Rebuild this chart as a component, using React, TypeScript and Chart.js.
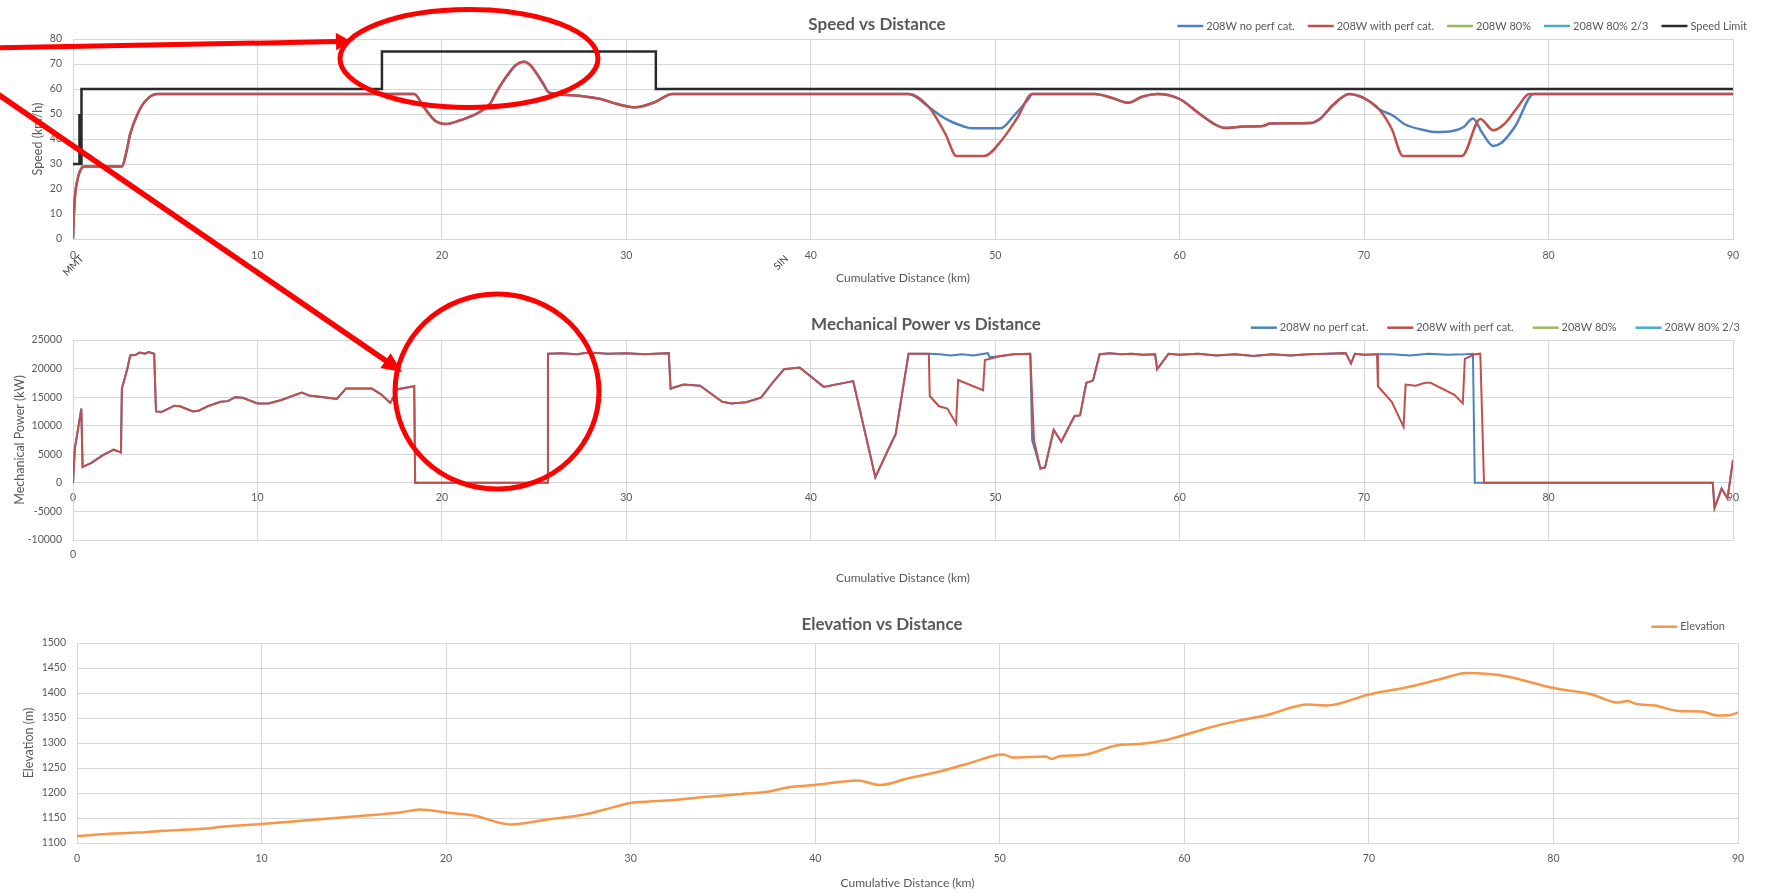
import React, { useEffect, useRef } from 'react';
import { Chart, registerables } from 'chart.js';

Chart.register(...registerables);

type Pt = [number, number];

// ---------------- labels ----------------
const chartTitles = ['Speed vs Distance', 'Mechanical Power vs Distance', 'Elevation vs Distance'];
const seriesNames = ['208W no perf cat.', '208W with perf cat.', '208W 80%', '208W 80% 2/3', 'Speed Limit'];
const seriesColors = ['#4F81BD', '#C0504D', '#9BBB59', '#4BACC6', '#2a2a2a'];
const elevationName = 'Elevation';
const elevationColor = '#F79646';
const stationNames = ['MMT', 'SIN'];
const stationKm = [0, 38.2];
const xAxisTitle = 'Cumulative Distance (km)';
const yAxisTitles = ['Speed (km/h)', 'Mechanical Power (kW)', 'Elevation (m)'];

// ---------------- speed (km, km/h) ----------------
const speedLimit: Pt[] = [
  [0, 30], [0.33, 30], [0.33, 50], [0.36, 50], [0.36, 30], [0.46, 30], [0.46, 60],
  [16.75, 60], [16.75, 75], [31.6, 75], [31.6, 60], [90, 60],
];
const speedShared1: Pt[] = [
  [0, 0], [0.05, 10], [0.12, 18], [0.25, 24], [0.4, 27.5], [0.6, 29], [2.65, 29], [2.9, 35],
  [3.1, 42], [3.5, 50], [3.9, 55], [4.55, 58], [18.5, 58], [19.0, 53], [19.6, 47.5], [20.2, 46],
  [21.0, 47.5], [22.0, 50.6], [22.6, 54], [23.0, 59.3], [23.5, 65], [24.0, 69.5], [24.45, 70.9],
  [24.8, 69.5], [25.1, 66.6], [25.5, 62], [25.8, 58.6], [27, 57.5], [28.6, 56], [29.5, 54],
  [30.5, 52.7], [31.5, 54.6], [32.5, 58], [45.3, 58], [46.4, 52.8],
];
const speedRedDip1: Pt[] = [[47.3, 42], [47.9, 33.2], [49.4, 33.2], [50.4, 40], [51.2, 48.5], [52.0, 58]];
const speedBlueDip1: Pt[] = [[47.0, 49.5], [47.6, 47], [48.3, 45], [48.7, 44.3], [50.3, 44.3], [51.0, 49.2], [51.8, 56], [52.0, 58]];
const speedShared2: Pt[] = [
  [55.4, 58], [56.3, 56.5], [57.2, 54.5], [58.0, 57], [58.8, 58], [60, 56], [61, 50.5], [62, 45.5],
  [62.5, 44.4], [63.5, 45], [64.5, 45.2], [64.9, 46.2], [67.1, 46.4], [67.6, 48], [68.3, 53.5],
  [69.2, 58], [69.8, 57], [70.3, 55], [70.8, 52],
];
const speedRedDip2: Pt[] = [[71.5, 44], [72.1, 33.2], [75.3, 33.2], [76.3, 48], [77.0, 43.5], [77.6, 46], [78.3, 52.5], [78.95, 58]];
const speedBlueDip2: Pt[] = [
  [71.6, 49.2], [72.2, 45.9], [73.3, 43.5], [73.9, 42.8], [74.8, 43.2], [75.4, 44.8], [75.9, 48.2],
  [76.4, 42.5], [77.0, 37.2], [77.45, 38.5], [78.2, 45.2], [79.2, 58],
];
const speedShared3: Pt[] = [[90, 58]];

// ---------------- mechanical power (km, kW) ----------------
const powerShared1: Pt[] = [
  [0, 0], [0.1, 6000], [0.45, 13000], [0.52, 2800], [1.0, 3500], [1.6, 4800], [2.2, 5800], [2.45, 5500],
  [2.6, 5300], [2.65, 16500], [2.95, 20000], [3.1, 22300], [3.4, 22400], [3.6, 22800], [3.9, 22600],
  [4.1, 22900], [4.4, 22600], [4.5, 12500], [4.8, 12400], [5.5, 13500], [5.8, 13400], [6.5, 12500],
  [6.8, 12600], [7.3, 13400], [8.0, 14200], [8.4, 14300], [8.8, 15000], [9.2, 14900], [10.0, 13900],
  [10.6, 13900], [11.3, 14500], [12.4, 15800], [12.8, 15300], [14.3, 14700], [14.8, 16500], [16.2, 16500],
  [16.7, 15500], [17.2, 14000], [17.6, 16400], [18.5, 16900], [18.55, 0], [25.7, 0], [25.75, 22600],
  [26.5, 22700], [27.3, 22500], [28.0, 22800], [29.0, 22600], [30.0, 22700], [31.0, 22500], [32.3, 22700],
  [32.4, 16500], [33.1, 17200], [34.0, 17000], [35.2, 14200], [35.7, 13900], [36.5, 14100], [37.3, 14900],
  [37.9, 17400], [38.55, 19900], [39.4, 20200], [40.7, 16800], [42.3, 17800], [43.5, 1000], [44.4, 7200],
  [44.6, 8500], [45.3, 22600], [46.4, 22600],
];
const powerRedA: Pt[] = [[46.45, 15200], [46.95, 13400], [47.4, 13000], [47.88, 10400], [47.99, 18000], [49.34, 16200], [49.44, 21500]];
const powerBlueA: Pt[] = [[47.0, 22500], [47.6, 22300], [48.2, 22500], [48.8, 22300], [49.6, 22700], [49.7, 22000]];
const powerShared2: Pt[] = [[50.3, 22200], [51.0, 22500], [51.9, 22600]];
const powerRedB: Pt[] = [[52.1, 7500]];
const powerBlueB: Pt[] = [[52.0, 7500]];
const powerShared3: Pt[] = [
  [52.45, 2500], [52.7, 2700], [53.17, 9300], [53.58, 7200], [54.3, 11700], [54.6, 11800], [54.94, 17500],
  [55.3, 17900], [55.66, 22500], [56.2, 22700], [56.8, 22500], [57.4, 22600], [58.0, 22400], [58.67, 22500],
  [58.78, 19900], [59.4, 22600], [60.0, 22400], [61.0, 22600], [62.0, 22300], [63.0, 22500], [64.0, 22200],
  [65.0, 22500], [66.0, 22300], [67.0, 22500], [68.0, 22600], [69.0, 22700], [69.29, 20900], [69.5, 22600],
  [70.0, 22400], [70.7, 22500],
];
const powerRedC: Pt[] = [
  [70.75, 16900], [71.5, 14200], [72.14, 9800], [72.25, 17200], [72.8, 17000], [73.3, 17500], [73.6, 17500],
  [74.9, 15400], [75.35, 13900], [75.46, 21700], [76.0, 22500], [76.3, 22600], [76.5, 0],
];
const powerBlueC: Pt[] = [[71.5, 22500], [72.5, 22300], [73.5, 22600], [74.5, 22400], [75.5, 22500], [75.9, 22600], [76.0, 0]];
const powerShared4: Pt[] = [[88.9, 0], [89.0, -4400], [89.38, -1000], [89.7, -2700], [90.0, 4000]];

// ---------------- elevation (km, m) ----------------
const elevation: Pt[] = [
  [0, 1114], [2, 1119], [3.3, 1121], [5, 1125], [7, 1129], [8, 1133], [10, 1138], [12, 1144], [14, 1150],
  [16, 1156], [17.5, 1161], [18.6, 1167], [20, 1161], [21.5, 1155], [23.5, 1137], [25.5, 1147], [27.5, 1157],
  [28.6, 1167], [30, 1180], [31, 1183], [32, 1185], [34, 1192], [36, 1198], [37.5, 1203], [38.5, 1211],
  [40, 1216], [42.3, 1225], [43.5, 1216], [45, 1229], [46.5, 1241], [48.3, 1259], [50.2, 1277], [50.7, 1271],
  [52.5, 1273], [52.8, 1268], [53.3, 1274], [54.5, 1276], [56.3, 1295], [57.8, 1299], [59, 1306],
  [60, 1316], [61, 1327], [62, 1337], [63, 1345], [64.5, 1356], [66.7, 1377], [67.7, 1375], [70, 1397], [72, 1411],
  [74, 1429], [75.3, 1440], [76.5, 1438], [77.5, 1433], [80, 1410], [82, 1398], [83.5, 1381], [84, 1384],
  [84.5, 1378], [85.5, 1375], [86.8, 1364], [88, 1363], [88.9, 1355], [89.6, 1356], [90, 1361],
];

// ---------------- styling ----------------
const FONT = 'Lato, "Open Sans", "Liberation Sans", sans-serif';
const TEXT = '#595959';
const GRID = '#d6d6d6';
const W = 1767;

const toXY = (pts: Pt[]) => pts.map(([x, y]) => ({ x, y }));

function lineDs(label: string, color: string, pts: Pt[], width: number, order: number, smooth: boolean) {
  return {
    label,
    data: toXY(pts),
    borderColor: color,
    backgroundColor: color,
    borderWidth: width,
    pointRadius: 0,
    pointHoverRadius: 0,
    fill: false,
    order,
    tension: 0,
    cubicInterpolationMode: smooth ? 'monotone' : 'default',
  };
}

type HeaderCfg = {
  title: string; titleX: number; titleY: number;
  legendRight: number; legendY: number; itemGap: number;
};

function headerPlugin(cfg: HeaderCfg) {
  return {
    id: 'header',
    afterDraw(chart: any) {
      const ctx = chart.ctx as CanvasRenderingContext2D;
      ctx.save();
      ctx.fillStyle = TEXT;
      ctx.textBaseline = 'middle';
      ctx.textAlign = 'center';
      ctx.font = `bold 17px ${FONT}`;
      ctx.fillText(cfg.title, cfg.titleX, cfg.titleY);
      ctx.font = `11px ${FONT}`;
      const items = chart.data.datasets.map((d: any) => ({ label: d.label, color: d.borderColor }));
      const lineLen = 26;
      const textGap = 3;
      const widths = items.map((it: any) => ctx.measureText(it.label).width);
      const total = widths.reduce((a: number, b: number) => a + b, 0) + items.length * (lineLen + textGap) + (items.length - 1) * cfg.itemGap;
      let x = cfg.legendRight - total;
      items.forEach((it: any, i: number) => {
        ctx.strokeStyle = it.color;
        ctx.lineWidth = 2.5;
        ctx.beginPath();
        ctx.moveTo(x, cfg.legendY);
        ctx.lineTo(x + lineLen, cfg.legendY);
        ctx.stroke();
        x += lineLen + textGap;
        ctx.textAlign = 'left';
        ctx.fillStyle = TEXT;
        ctx.fillText(it.label, x, cfg.legendY);
        x += widths[i] + cfg.itemGap;
      });
      ctx.restore();
    },
  };
}

const stationPlugin = {
  id: 'stations',
  afterDraw(chart: any) {
    const ctx = chart.ctx as CanvasRenderingContext2D;
    const xs = chart.scales.x;
    ctx.save();
    ctx.font = `10px ${FONT}`;
    ctx.fillStyle = '#404040';
    stationNames.forEach((name, i) => {
      const px = xs.getPixelForValue(stationKm[i]);
      ctx.save();
      ctx.translate(px + 9, 257);
      ctx.rotate(-Math.PI / 4);
      ctx.textAlign = 'right';
      ctx.textBaseline = 'middle';
      ctx.fillText(name, 0, 0);
      ctx.restore();
    });
    ctx.restore();
  },
};

const numLabel = (v: any) => String(v);

function xScale(h: number, tickPad: number, titlePadBottom: number, extra: any = {}) {
  return {
    type: 'linear',
    min: 0,
    max: 90,
    ticks: {
      stepSize: 10,
      padding: tickPad,
      color: TEXT,
      font: { family: FONT, size: 10.5 },
      maxRotation: 0,
      autoSkip: false,
      callback: numLabel,
      ...(extra.ticks || {}),
    },
    grid: { color: GRID, drawTicks: false, lineWidth: 1 },
    border: { color: GRID },
    title: {
      display: true,
      text: xAxisTitle,
      color: TEXT,
      font: { family: FONT, size: 12 },
      padding: { top: 0, bottom: titlePadBottom },
    },
    afterFit: (s: any) => {
      s.height = h;
      s.paddingLeft = 0;
      s.paddingRight = 0;
    },
  };
}

function yScale(w: number, min: number, max: number, step: number, title: string, titlePadTop: number) {
  return {
    type: 'linear',
    min,
    max,
    ticks: { stepSize: step, padding: 11, color: TEXT, font: { family: FONT, size: 10.5 }, callback: numLabel },
    grid: { color: GRID, drawTicks: false, lineWidth: 1 },
    border: { color: GRID },
    title: {
      display: true,
      text: title,
      color: TEXT,
      font: { family: FONT, size: 12.5 },
      padding: { top: titlePadTop, bottom: 0 },
    },
    afterFit: (s: any) => {
      s.width = w;
      s.paddingTop = 0;
      s.paddingBottom = 0;
    },
  };
}

const basePlugins = { legend: { display: false }, title: { display: false }, tooltip: { enabled: false } };

function speedConfig(): any {
  return {
    type: 'line',
    data: {
      datasets: [
        lineDs(seriesNames[0], seriesColors[0], [...speedShared1, ...speedBlueDip1, ...speedShared2, ...speedBlueDip2, ...speedShared3], 2.5, 5, true),
        lineDs(seriesNames[1], seriesColors[1], [...speedShared1, ...speedRedDip1, ...speedShared2, ...speedRedDip2, ...speedShared3], 2.5, 4, true),
        lineDs(seriesNames[2], seriesColors[2], [], 2.5, 3, false),
        lineDs(seriesNames[3], seriesColors[3], [], 2.5, 2, false),
        lineDs(seriesNames[4], seriesColors[4], speedLimit, 2.5, 1, false),
      ],
    },
    options: {
      animation: false,
      responsive: false,
      events: [],
      layout: { padding: { left: 0, top: 39, right: W - 1733, bottom: 0 } },
      scales: {
        x: xScale(61, 10.4, 14.8),
        y: yScale(73, 0, 80, 10, yAxisTitles[0], 30.5),
      },
      plugins: basePlugins,
    },
    plugins: [
      headerPlugin({ title: chartTitles[0], titleX: 877, titleY: 25, legendRight: 1747, legendY: 26, itemGap: 13 }),
      stationPlugin,
    ],
  };
}

function powerConfig(): any {
  return {
    type: 'line',
    data: {
      datasets: [
        lineDs(seriesNames[0], seriesColors[0], [...powerShared1, ...powerBlueA, ...powerShared2, ...powerBlueB, ...powerShared3, ...powerBlueC, ...powerShared4], 2, 4, false),
        lineDs(seriesNames[1], seriesColors[1], [...powerShared1, ...powerRedA, ...powerShared2, ...powerRedB, ...powerShared3, ...powerRedC, ...powerShared4], 2, 3, false),
        lineDs(seriesNames[2], seriesColors[2], [], 2, 2, false),
        lineDs(seriesNames[3], seriesColors[3], [], 2, 1, false),
      ],
    },
    options: {
      animation: false,
      responsive: false,
      events: [],
      layout: { padding: { left: 0, top: 40, right: W - 1733, bottom: 0 } },
      scales: {
        x: xScale(60, 8.7, 14.8, { ticks: { callback: (v: any) => (v === 0 ? '0' : '') } }),
        xz: {
          type: 'linear',
          axis: 'x',
          position: { y: 0 },
          min: 0,
          max: 90,
          ticks: { stepSize: 10, padding: 8.7, color: TEXT, font: { family: FONT, size: 10.5 }, maxRotation: 0, autoSkip: false, callback: numLabel },
          grid: { display: false, drawTicks: false },
          border: { display: false },
          afterFit: (s: any) => {
            s.paddingLeft = 0;
            s.paddingRight = 0;
          },
        },
        y: yScale(73, -10000, 25000, 5000, yAxisTitles[1], 12.5),
      },
      plugins: basePlugins,
    },
    plugins: [
      headerPlugin({ title: chartTitles[1], titleX: 926, titleY: 25, legendRight: 1740, legendY: 27.7, itemGap: 19 }),
    ],
  };
}

function elevationConfig(): any {
  return {
    type: 'line',
    data: {
      datasets: [lineDs(elevationName, elevationColor, elevation, 2.5, 1, true)],
    },
    options: {
      animation: false,
      responsive: false,
      events: [],
      layout: { padding: { left: 0, top: 43, right: W - 1738, bottom: 0 } },
      scales: {
        x: xScale(50, 9, 3.1),
        y: yScale(77, 1100, 1500, 50, yAxisTitles[2], 21.2),
      },
      plugins: basePlugins,
    },
    plugins: [
      headerPlugin({ title: chartTitles[2], titleX: 882, titleY: 25, legendRight: 1725, legendY: 26.7, itemGap: 13 }),
    ],
  };
}

function ChartCanvas({ top, height, build }: { top: number; height: number; build: () => any }) {
  const ref = useRef<HTMLCanvasElement>(null);
  useEffect(() => {
    if (!ref.current) return;
    const chart = new Chart(ref.current, build());
    return () => chart.destroy();
  }, []);
  return (
    <canvas
      ref={ref}
      width={W}
      height={height}
      style={{ position: 'absolute', left: 0, top, width: W, height, display: 'block' }}
    />
  );
}

export default function App() {
  return (
    <div style={{ position: 'fixed', left: 0, top: 0, width: W, height: 893, background: '#ffffff', overflow: 'hidden' }}>
      <ChartCanvas top={0} height={300} build={speedConfig} />
      <ChartCanvas top={300} height={300} build={powerConfig} />
      <ChartCanvas top={600} height={293} build={elevationConfig} />
      <svg width={W} height={893} style={{ position: 'absolute', left: 0, top: 0, pointerEvents: 'none' }}>
        <line x1={-10} y1={48} x2={337} y2={41.6} stroke="#ff0000" strokeWidth={5} />
        <polygon points="351,41.3 335.8,32.8 336.2,50.2" fill="#ff0000" />
        <ellipse cx={469} cy={58.5} rx={129} ry={49} fill="none" stroke="#ff0000" strokeWidth={5} />
        <line x1={-10} y1={88.8} x2={387} y2={361.5} stroke="#ff0000" strokeWidth={5.5} />
        <polygon points="402,372 380.4,368.1 390.6,353.3" fill="#ff0000" />
        <ellipse cx={497} cy={391.5} rx={102} ry={97.5} fill="none" stroke="#ff0000" strokeWidth={5} />
      </svg>
    </div>
  );
}
